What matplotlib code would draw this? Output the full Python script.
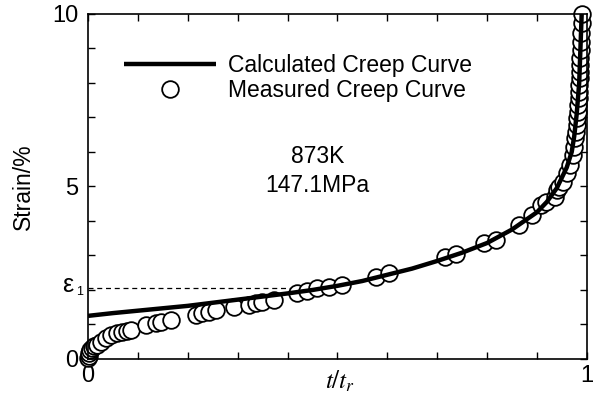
import matplotlib.pyplot as plt
import matplotlib.transforms as mtransforms

plt.rcParams['font.family'] = ['Liberation Sans', 'DejaVu Sans']
plt.rcParams['mathtext.fontset'] = 'stix'

# calculated creep curve
calc_t = [0.0, 0.05, 0.1, 0.15, 0.2, 0.25, 0.3, 0.35, 0.4, 0.45, 0.5, 0.55, 0.6,
          0.65, 0.7, 0.75, 0.8, 0.85, 0.9, 0.92, 0.94, 0.96, 0.97, 0.975, 0.98,
          0.985, 0.99]
calc_strain = [1.25, 1.33, 1.40, 1.47, 1.54, 1.63, 1.72, 1.81, 1.90, 2.00, 2.12,
               2.26, 2.44, 2.62, 2.84, 3.08, 3.36, 3.75, 4.25, 4.55, 4.95, 5.55,
               6.0, 6.45, 7.1, 8.0, 10.0]

# measured creep curve
meas_t = [0.0, 0.001, 0.002, 0.004, 0.008, 0.012, 0.018, 0.026, 0.036, 0.046,
          0.058, 0.068, 0.078, 0.086, 0.116, 0.136, 0.146, 0.166, 0.216, 0.228,
          0.242, 0.256, 0.293, 0.323, 0.337, 0.349, 0.373, 0.419, 0.439, 0.459,
          0.483, 0.509, 0.577, 0.603, 0.715, 0.737, 0.794, 0.818, 0.864, 0.890,
          0.908, 0.918, 0.936, 0.940, 0.945, 0.952, 0.960, 0.966, 0.972, 0.975,
          0.977, 0.979, 0.980, 0.981, 0.982, 0.983, 0.984, 0.985, 0.985, 0.986,
          0.986, 0.987, 0.987, 0.988, 0.988, 0.989, 0.990, 0.990]
meas_strain = [0.02, 0.08, 0.17, 0.25, 0.32, 0.37, 0.41, 0.49, 0.61, 0.70,
               0.75, 0.78, 0.81, 0.84, 0.99, 1.04, 1.07, 1.13, 1.28, 1.33,
               1.36, 1.42, 1.51, 1.57, 1.62, 1.65, 1.71, 1.91, 1.96, 2.06,
               2.09, 2.14, 2.38, 2.49, 2.96, 3.04, 3.36, 3.45, 3.88, 4.17,
               4.46, 4.55, 4.70, 4.90, 4.99, 5.13, 5.39, 5.62, 5.91, 6.14,
               6.41, 6.58, 6.78, 6.99, 7.16, 7.36, 7.57, 7.74, 7.94, 8.14,
               8.32, 8.52, 8.72, 8.96, 9.19, 9.45, 9.74, 10.0]

eps1 = 2.05
eps1_t = 0.44

fig = plt.figure(figsize=(5.95, 3.98), dpi=100)
ax = fig.add_axes([0.148, 0.098, 0.838, 0.867])

ax.plot(calc_t, calc_strain, color='black', linewidth=3.2, solid_capstyle='butt',
        label='Calculated Creep Curve', zorder=3)
ax.plot(meas_t, meas_strain, linestyle='none', marker='o', markersize=12,
        markerfacecolor='white', markeredgecolor='black', markeredgewidth=1.3,
        label='Measured Creep Curve', clip_on=False, zorder=2)
ax.plot([0, eps1_t], [eps1, eps1], color='black', linestyle=(0, (4, 3)),
        linewidth=0.9, zorder=1)

ax.set_xlim(0, 1)
ax.set_ylim(0, 10)

ax.set_xticks([i / 10 for i in range(11)])
ax.set_xticklabels(['0'] + [''] * 9 + ['1'])
ax.set_yticks(range(11))
ax.set_yticklabels(['0', '', '', '', '', '5', '', '', '', '', '10'])
ax.tick_params(direction='in', length=5, width=1, top=True, right=True,
               labelsize=17)
ax.tick_params(axis='y', pad=7)
ax.tick_params(axis='x', pad=4)
for s in ax.spines.values():
    s.set_linewidth(1.2)

trans = mtransforms.blended_transform_factory(ax.transAxes, ax.transData)
ax.text(-0.03, eps1 + 0.08, 'ε', transform=trans, ha='right', va='center',
        fontsize=18)
ax.text(-0.01, eps1 - 0.1, '1', transform=trans, ha='right', va='center',
        fontsize=9)

ax.set_ylabel('Strain/%', fontsize=16.5, labelpad=12)
ax.text(0.505, -0.065, '$t/t_r$', transform=ax.transAxes, ha='center',
        va='center', fontsize=18)

ax.legend(loc='upper left', bbox_to_anchor=(0.04, 0.93), frameon=False,
          fontsize=16.5, handlelength=4.0, handletextpad=0.55, labelspacing=0.1,
          borderpad=0.2)

ax.text(0.46, 0.545, '873K\n147.1MPa', transform=ax.transAxes, ha='center',
        va='center', fontsize=16.5, linespacing=1.3)

fig.savefig('out.png', dpi=100)
